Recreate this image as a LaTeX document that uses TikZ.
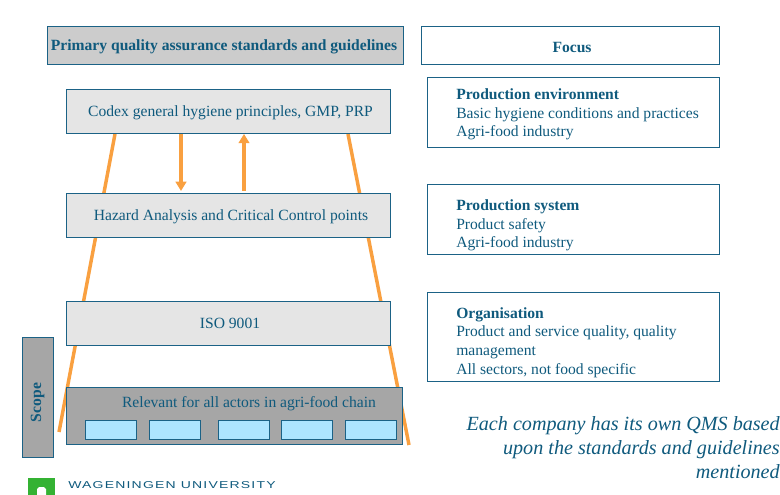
\documentclass[tikz,border=0pt]{standalone}
\usepackage{fontspec}
\setmainfont{Liberation Serif}
\newfontfamily\logofont[LetterSpace=12,FakeStretch=1.4]{Liberation Sans}
\usetikzlibrary{arrows.meta}

\definecolor{inktext}{HTML}{0F5A7D}
\definecolor{inkline}{HTML}{1B6286}
\definecolor{cone}{HTML}{F9A040}
\definecolor{waggreen}{HTML}{34B233}
\definecolor{chainfill}{HTML}{AEE5FF}

\tikzset{
	qbox/.style={draw=inkline, line width=0.6pt, inner sep=0pt},
	stdbox/.style={qbox, fill=#1, minimum width=243pt, minimum height=33pt},
	focusbox/.style={qbox, minimum width=219pt},
	chainbox/.style={draw=inkline, line width=0.7pt, fill=chainfill, minimum width=38.25pt, minimum height=14.25pt, inner sep=0pt},
	boxtext/.style={text=inktext, inner sep=0pt, font=\fontsize{11.7}{14}\selectfont},
	boldtext/.style={text=inktext, inner sep=0pt, font=\fontsize{11.7}{14}\selectfont\bfseries},
	focustext/.style={text=inktext, anchor=west, inner sep=0pt, align=left, font=\fontsize{11.7}{13.9}\selectfont},
	conefrom/.style={draw=cone, line width=2.6pt},
	feedback/.style={draw=cone, line width=2.6pt, -{Triangle[length=7pt, width=8pt]}},
}

\begin{document}
\begin{tikzpicture}[x=0.75pt, y=-0.75pt]

\useasboundingbox (0, 0) rectangle (780, 495);

% cone behind the boxes
\coordinate (coneL1) at (115, 134);
\coordinate (coneL2) at (59, 432);
\coordinate (coneR1) at (348, 134);
\coordinate (coneR2) at (409, 445);
\draw[conefrom] (coneL1) -- (coneL2);
\draw[conefrom] (coneR1) -- (coneR2);

% left column
\node[qbox, fill=black!20, minimum width=267pt, minimum height=28.5pt] (primary) at (225.5, 45.5) {};
\node[boldtext] (primarytext) at (224, 47) {Primary quality assurance standards and guidelines};
\node[stdbox=black!10] (codex) at (228.5, 111.5) {};
\node[boxtext] (codextext) at (230.5, 113) {Codex general hygiene principles, GMP, PRP};
\node[stdbox=black!10] (hazard) at (228.5, 215.5) {};
\node[boxtext] (hazardtext) at (231, 217) {Hazard Analysis and Critical Control points};
\node[stdbox=black!10] (iso) at (228.5, 323.5) {};
\node[boxtext] (isotext) at (230, 323.5) {ISO 9001};

\node[qbox, fill=black!35, minimum width=252pt, minimum height=42.75pt] (actors) at (234.5, 416) {};
\node[boxtext] (actorstext) at (249, 403.5) {Relevant for all actors in agri-food chain};

\foreach \x [count=\i] in {111, 175, 244, 307, 371} {
	\node[chainbox] (chain-\i) at (\x, 429.5) {};
}

\node[qbox, fill=black!35, minimum width=23.25pt, minimum height=90pt] (scope) at (38, 397.5) {};
\node[boldtext, rotate=90] (scopetext) at (37.5, 402.5) {Scope};

% arrows between the first two levels
\coordinate (down) at (181, 191);
\coordinate (up) at (244, 191);
\draw[feedback] (codex.south -| down) -- (down);
\draw[feedback] (up) -- (codex.south -| up);

% right column
\node[qbox, minimum width=223.5pt, minimum height=28.5pt] (focus) at (570.5, 45.5) {};
\node[boldtext] (focustitle) at (572, 47.5) {Focus};

\node[focusbox, minimum height=52.5pt] (envbox) at (573.5, 112.5) {};
\node[focustext] (envtext) at (456, 114.5) {\textbf{Production environment}\\Basic hygiene conditions and practices\\Agri-food industry};

\node[focusbox, minimum height=52.5pt] (sysbox) at (573.5, 219.5) {};
\node[focustext] (systext) at (456, 225.5) {\textbf{Production system}\\Product safety\\Agri-food industry};

\node[focusbox, minimum height=66.75pt] (orgbox) at (573.5, 337) {};
\node[focustext] (orgtext) at (456, 342.5) {\textbf{Organisation}\\Product and service quality, quality\\management\\All sectors, not food specific};

% remark
\node[text=inktext, anchor=east, inner sep=0pt, align=right, font=\fontsize{15.1}{18}\selectfont\itshape] (remark) at (780, 448) {Each company has its own QMS based\\upon the standards and guidelines\\mentioned};

% logo
\fill[waggreen] (28, 478) rectangle (55, 495);
\fill[white] (37, 495) -- (37, 489) -- (39, 487) -- (44, 487) -- (46, 489) -- (46, 495) -- cycle;
\node[text=inktext, anchor=west, inner sep=0pt, font=\fontsize{7.5}{8}\logofont] (wur) at (68, 485) {WAGENINGEN UNIVERSITY};

\end{tikzpicture}
\end{document}
